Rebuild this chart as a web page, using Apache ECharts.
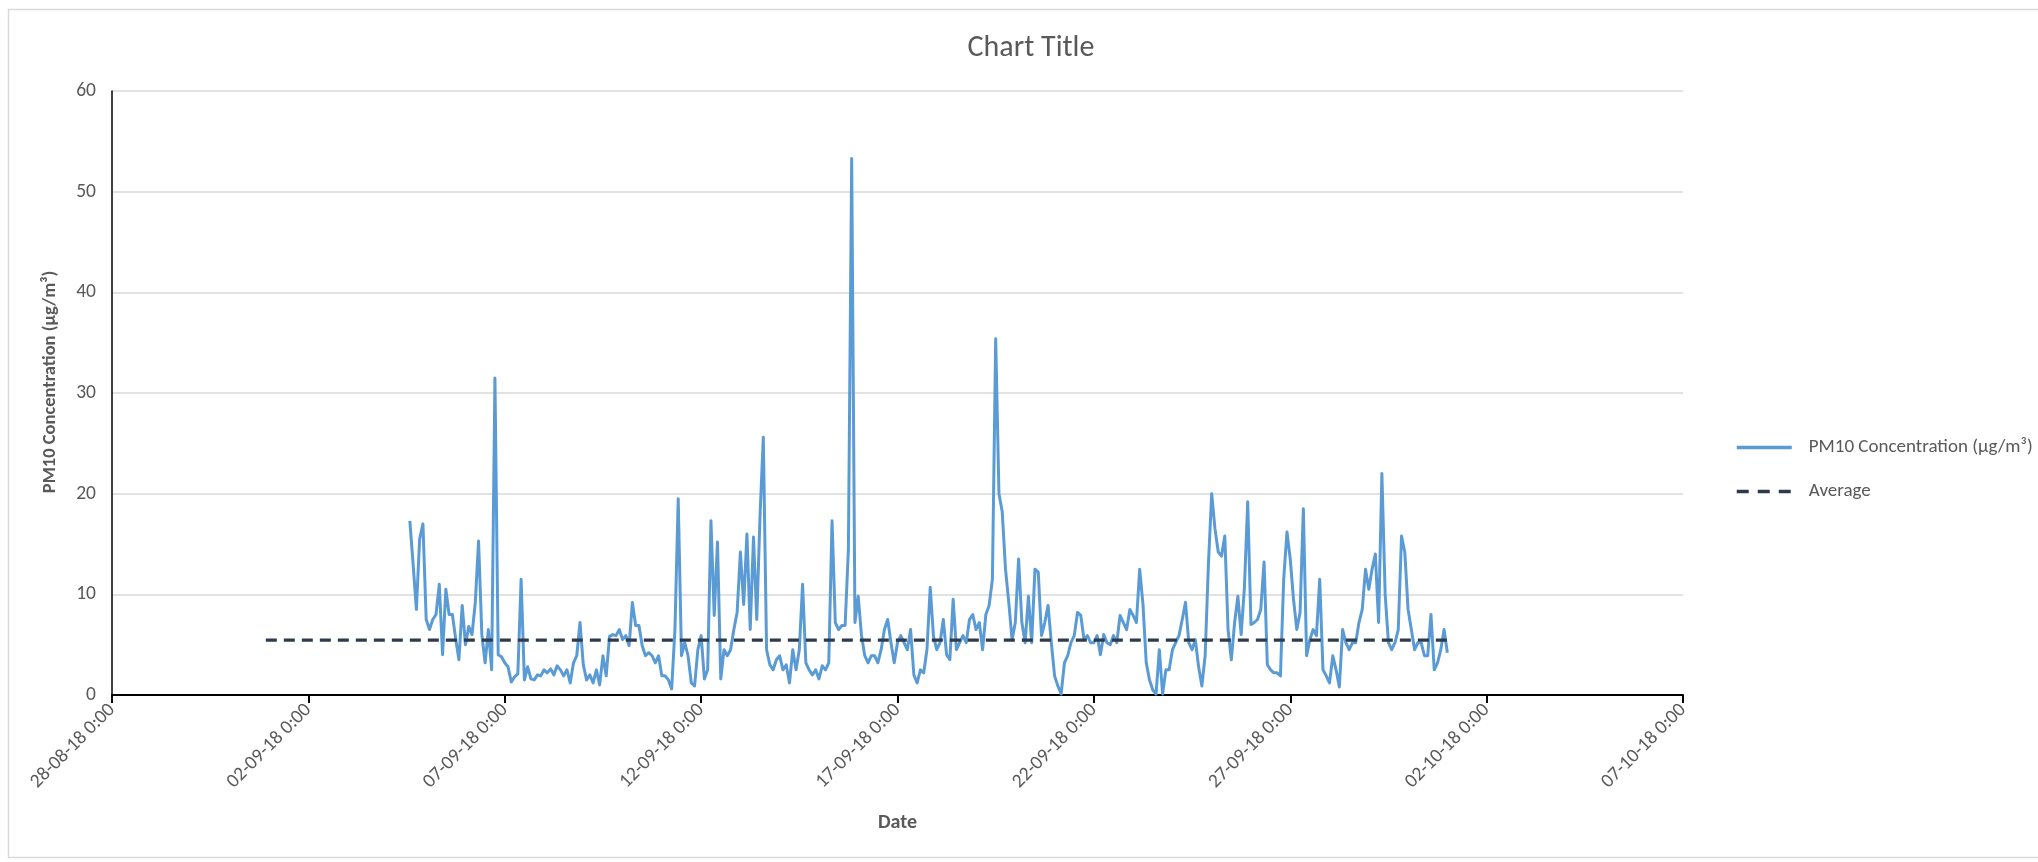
<!DOCTYPE html>
<html>
<head>
<meta charset="utf-8">
<script src="https://cdn.jsdelivr.net/npm/echarts@6/dist/echarts.min.js"></script>
<style>
html,body{margin:0;padding:0;background:#fff;}
#chart{width:2038px;height:862px;}
</style>
</head>
<body>
<div id="chart"></div>
<script>
// x values are days since 28-08-18 0:00
const xTickLabels = ['28-08-18 0:00','02-09-18 0:00','07-09-18 0:00','12-09-18 0:00','17-09-18 0:00','22-09-18 0:00','27-09-18 0:00','02-10-18 0:00','07-10-18 0:00'];
const pmStartDay = 7 + 14/24;   // 04-09-18 14:00
const pmStepDay = 2/24;         // 2-hour readings
const pm10 = [
 17.3,13.0,8.5,15.5,17.0,7.5,6.5,7.5,8.0,11.0,
 4.0,10.5,8.0,8.0,5.6,3.5,8.9,5.0,6.8,6.0,
 9.2,15.3,6.0,3.2,6.5,2.5,31.5,4.0,3.8,3.2,
 2.8,1.3,1.8,2.1,11.5,1.5,2.8,1.6,1.5,2.0,
 1.9,2.5,2.2,2.6,2.0,2.9,2.5,1.9,2.5,1.2,
 3.2,3.9,7.2,3.0,1.5,2.0,1.2,2.5,1.0,3.9,
 1.9,5.8,6.0,5.9,6.5,5.5,5.9,4.9,9.2,6.9,
 6.9,4.9,3.9,4.2,3.9,3.2,3.9,1.9,1.9,1.5,
 0.6,6.5,19.5,3.9,5.2,3.9,1.2,0.9,4.5,5.9,
 1.6,2.5,17.3,7.9,15.2,1.6,4.5,3.9,4.5,6.5,
 8.2,14.2,9.0,16.0,6.5,15.7,7.5,17.8,25.6,4.5,
 3.0,2.5,3.5,3.9,2.5,3.0,1.2,4.5,2.5,4.5,
 11.0,3.2,2.5,2.0,2.5,1.6,2.9,2.5,3.2,17.3,
 7.2,6.5,6.9,6.9,14.5,53.3,7.2,9.8,5.9,3.9,
 3.2,3.9,3.9,3.2,4.5,6.5,7.5,5.2,3.2,5.2,
 5.9,5.2,4.5,6.5,2.0,1.2,2.5,2.2,4.5,10.7,
 5.8,4.5,5.2,7.5,4.0,3.5,9.5,4.5,5.2,5.9,
 5.2,7.5,8.0,6.5,7.2,4.5,8.0,8.9,11.5,35.4,
 20.0,18.2,12.5,9.2,5.5,7.2,13.5,7.2,5.2,9.8,
 5.2,12.5,12.2,5.9,7.2,8.9,5.2,1.9,0.9,0.1,
 3.2,3.9,5.2,5.9,8.2,7.9,5.5,5.9,5.2,5.2,
 5.9,4.0,6.0,5.2,5.0,5.9,5.2,7.9,7.2,6.5,
 8.5,7.9,7.2,12.5,9.0,3.2,1.5,0.5,0.1,4.5,
 0.1,2.5,2.5,4.5,5.2,5.9,7.5,9.2,5.2,4.5,
 5.5,2.8,0.9,3.9,13.0,20.0,16.5,14.2,13.8,15.8,
 6.5,3.5,7.2,9.8,6.0,10.7,19.2,7.0,7.2,7.5,
 8.5,13.2,3.0,2.5,2.2,2.2,1.9,11.5,16.2,13.5,
 9.5,6.5,8.2,18.5,3.9,5.5,6.5,5.9,11.5,2.5,
 1.9,1.2,3.9,2.5,0.8,6.5,5.2,4.5,5.2,5.2,
 7.2,8.5,12.5,10.5,12.5,14.0,7.2,22.0,10.0,5.2,
 4.5,5.2,6.5,15.8,14.2,8.5,6.5,4.5,5.2,5.2,
 3.9,3.9,8.0,2.5,3.2,4.5,6.5,4.2
];
const avgDays = [3 + 22/24, 34.0];
const avgValues = [5.45, 5.45];

const pmData = pm10.map((v, i) => [pmStartDay + i * pmStepDay, v]);
const avgData = avgDays.map((d, i) => [d, avgValues[i]]);

const FONT = 'Carlito, Lato, "Open Sans", sans-serif';
const GREY = '#595959';
const BLUE = '#5B9BD5';
const NAVY = '#2F3B4C';

const chart = echarts.init(document.getElementById('chart'), null, {renderer: 'canvas'});
chart.setOption({
  animation: false,
  backgroundColor: '#ffffff',
  textStyle: {fontFamily: FONT},
  title: {
    text: 'Chart Title',
    left: 1026, top: 28, textAlign: 'center',
    textStyle: {fontFamily: FONT, fontSize: 30, fontWeight: 'normal', color: GREY}
  },
  graphic: [{
    type: 'rect', silent: true, z: -1,
    shape: {x: 8.5, y: 9.5, width: 2040, height: 848},
    style: {fill: 'none', stroke: '#d9d9d9', lineWidth: 1.5}
  }],
  legend: {
    orient: 'vertical', left: 1730, top: 433,
    itemWidth: 55, itemHeight: 14, itemGap: 25,
    itemStyle: {opacity: 0},
    textStyle: {fontFamily: FONT, fontSize: 19, color: GREY, padding: [0, 0, 0, 12]},
    data: [
      {name: 'PM10 Concentration (µg/m³)', lineStyle: {color: BLUE, width: 3.5}},
      {name: 'Average', lineStyle: {color: NAVY, width: 3.5, type: [12, 9]}}
    ]
  },
  grid: {left: 112, right: 355, top: 91, bottom: 167, containLabel: false},
  xAxis: {
    type: 'value', min: 0, max: 40, interval: 5,
    name: 'Date', nameLocation: 'middle', nameGap: 118,
    nameTextStyle: {fontFamily: FONT, fontSize: 20, fontWeight: 'bold', color: GREY},
    axisLine: {show: true, onZero: true, lineStyle: {color: '#000', width: 2}},
    axisTick: {show: true, length: 8, lineStyle: {color: '#000', width: 2}},
    splitLine: {show: false},
    axisLabel: {
      rotate: 45, margin: 12, fontFamily: FONT, fontSize: 19.5, color: GREY,
      formatter: v => xTickLabels[Math.round(v / 5)] || ''
    }
  },
  yAxis: {
    type: 'value', min: 0, max: 60, interval: 10,
    name: 'PM10 Concentration (µg/m³)', nameLocation: 'middle', nameGap: 52,
    nameTextStyle: {fontFamily: FONT, fontSize: 18.5, fontWeight: 'bold', color: GREY, padding: [0, 0, 0, 22]},
    axisLine: {show: true, lineStyle: {color: '#000', width: 1.5}},
    axisTick: {show: false},
    splitLine: {show: true, lineStyle: {color: '#d9d9d9', width: 1.5}},
    axisLabel: {margin: 16, fontFamily: FONT, fontSize: 19.5, color: GREY}
  },
  series: [
    {
      name: 'PM10 Concentration (µg/m³)', type: 'line', data: pmData,
      symbol: 'none', showSymbol: false,
      lineStyle: {color: BLUE, width: 3, join: 'round'},
      itemStyle: {color: BLUE}, z: 3
    },
    {
      name: 'Average', type: 'line', data: avgData,
      symbol: 'none', showSymbol: false,
      lineStyle: {color: NAVY, width: 3.25, type: [11, 7]},
      itemStyle: {color: NAVY}, z: 4
    }
  ]
});
</script>
</body>
</html>
